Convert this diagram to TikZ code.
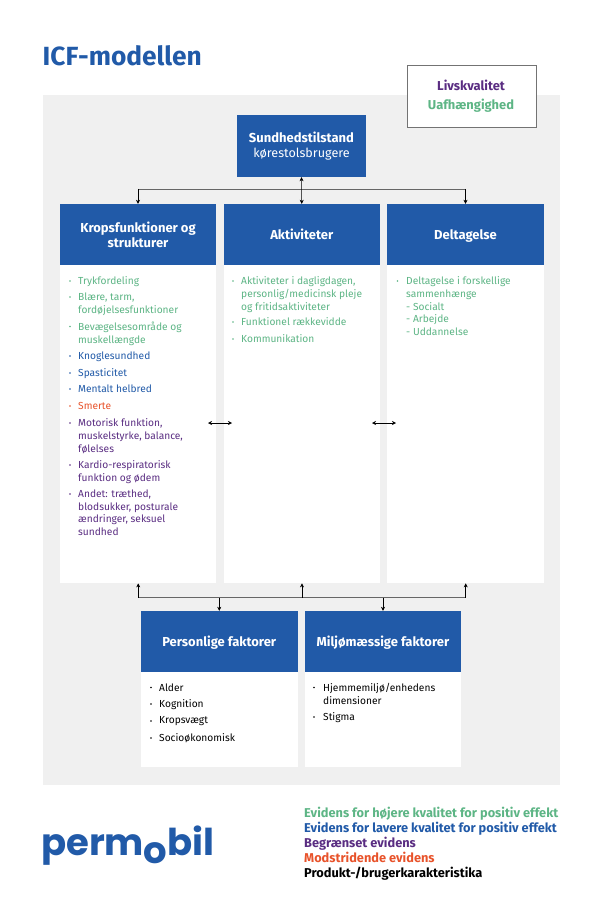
\documentclass[tikz,border=0pt]{standalone}
\usepackage{fontspec}
\setmainfont{Fira Sans}
\newfontfamily\logofont{Poppins}
\usetikzlibrary{arrows.meta}
\definecolor{pmblue}{HTML}{215AA8}
\definecolor{pmgreen}{HTML}{5DB585}
\definecolor{pmpurple}{HTML}{5A2D82}
\definecolor{pmorange}{HTML}{E8532B}
\definecolor{pmgray}{HTML}{F0F0F0}
\tikzset{
  headbox/.style={fill=pmblue,text=white,minimum width=#1,minimum height=61pt,inner sep=0pt,align=center,font=\fontsize{13}{15}\selectfont\bfseries},
  headbox/.default=156.5pt,
  bodybox/.style={fill=white,inner sep=0pt,anchor=north west},
  itemtext/.style={inner sep=0pt,anchor=north west,align=left,font=\fontsize{10.2}{12.6}\selectfont,text=#1},
  itemdot/.style={fill=#1,circle,inner sep=0pt,minimum size=1.8pt},
  legendline/.style={inner sep=0pt,anchor=base west,font=\fontsize{12.8}{14}\selectfont\bfseries,text=#1},
  tip/.style={-{Stealth[length=4pt,width=4pt]},draw=black,line width=0.5pt},
  twotip/.style={{Stealth[length=4pt,width=4pt]}-{Stealth[length=4pt,width=4pt]},draw=black,line width=0.5pt},
  busline/.style={draw=black!60,line width=0.9pt},
  logotext/.style={inner sep=0pt,anchor=base west,text=pmblue,font=\logofont\fontsize{37}{37}\selectfont\bfseries}
}
% \li{name}{bullet x}{text x}{first-line centre y}{colour}{text}
\newcommand{\li}[6]{%
  \node[itemdot=#5] (#1d) at (#2,#4) {};
  \node[itemtext=#5] (#1) at (#3,#4-4.3) {#6};
}
\newcommand{\oneline}[1]{\smash{\raisebox{-4.6pt}{#1}}}
\begin{document}
\begin{tikzpicture}[x=1pt,y=-1pt]
\useasboundingbox (0,0) rectangle (600,904);
\fill[pmgray] (43,95) rectangle (560,785);

\node[inner sep=0pt,anchor=base west,text=pmblue,font=\fontsize{26.3}{28}\selectfont\bfseries] (title) at (42.5,65.5) {ICF-modellen};

\node[draw=black!55,fill=white,line width=0.7pt,minimum width=128.5pt,minimum height=61.5pt,inner sep=0pt,anchor=north west] (qol) at (407,65.5) {};
\node[inner sep=0pt,text=pmpurple,font=\fontsize{12.9}{14}\selectfont\bfseries] (livs) at (471,85) {Livskvalitet};
\node[inner sep=0pt,text=pmgreen,font=\fontsize{12.9}{14}\selectfont\bfseries] (uaf) at (471,105.5) {Uafhængighed};

\node[headbox=129.5pt,minimum height=62pt] (sund) at (301.5,146) {\raisebox{-1.5pt}{Sundhedstilstand}\\{\mdseries\fontsize{12.6}{15}\selectfont\raisebox{-1.5pt}{kørestolsbrugere}}};

\node[headbox] (krop) at (138,234.5) {\raisebox{-1.5pt}{Kropsfunktioner og}\\\raisebox{-1.5pt}{strukturer}};
\node[headbox] (akt) at (301.75,234.5) {\oneline{Aktiviteter}};
\node[headbox] (del) at (465.5,234.5) {\oneline{Deltagelse}};

\node[bodybox,minimum width=156.5pt,minimum height=318pt] (kropb) at (59.75,265) {};
\node[bodybox,minimum width=156.5pt,minimum height=318pt] (aktb) at (223.5,265) {};
\node[bodybox,minimum width=156.5pt,minimum height=318pt] (delb) at (387.25,265) {};

\node[headbox] (pers) at (219.25,641.5) {\oneline{Personlige faktorer}};
\node[headbox] (milj) at (383,641.5) {\oneline{Miljømæssige faktorer}};
\node[bodybox,minimum width=156.5pt,minimum height=95pt] (persb) at (141,672) {};
\node[bodybox,minimum width=156.5pt,minimum height=95pt] (miljb) at (304.75,672) {};

% connectors
\coordinate (topbus) at (301.5,189);
\draw[busline] (krop.north |- topbus) -- (del.north |- topbus);
\draw[tip] (krop.north |- topbus) -- (krop.north);
\draw[tip] (del.north |- topbus) -- (del.north);
\draw[twotip] (sund.south) -- (akt.north);
\coordinate (botbus) at (301.5,597.5);
\draw[busline] (kropb.south |- botbus) -- (delb.south |- botbus);
\draw[tip] (kropb.south |- botbus) -- (kropb.south);
\draw[tip] (aktb.south |- botbus) -- (aktb.south);
\draw[tip] (delb.south |- botbus) -- (delb.south);
\draw[tip] (pers.north |- botbus) -- (pers.north);
\draw[tip] (milj.north |- botbus) -- (milj.north);
\coordinate (al) at (208,423);
\coordinate (ar) at (232,423);
\coordinate (bl) at (372,423);
\coordinate (br) at (396,423);
\draw[twotip] (al) -- (ar);
\draw[twotip] (bl) -- (br);

% column 1
\li{a1}{70}{78}{281}{pmgreen}{Trykfordeling}
\li{a2}{70}{78}{297}{pmgreen}{Blære, tarm,\\fordøjelsesfunktioner}
\li{a3}{70}{78}{326.5}{pmgreen}{Bevægelsesområde og\\muskellængde}
\li{a4}{70}{78}{356}{pmblue}{Knoglesundhed}
\li{a5}{70}{78}{373}{pmblue}{Spasticitet}
\li{a6}{70}{78}{389}{pmblue}{Mentalt helbred}
\li{a7}{70}{78}{406}{pmorange}{Smerte}
\li{a8}{70}{78}{423}{pmpurple}{Motorisk funktion,\\muskelstyrke, balance,\\følelses}
\li{a9}{70}{78}{465}{pmpurple}{Kardio-respiratorisk\\funktion og ødem}
\li{a10}{70}{78}{494}{pmpurple}{Andet: træthed,\\blodsukker, posturale\\ændringer, seksuel\\sundhed}
% column 2
\li{b1}{233}{241}{281}{pmgreen}{Aktiviteter i dagligdagen,\\personlig/medicinsk pleje\\og fritidsaktiviteter}
\li{b2}{233}{241}{322}{pmgreen}{Funktionel rækkevidde}
\li{b3}{233}{241}{339}{pmgreen}{Kommunikation}
% column 3
\li{c1}{397.5}{406}{281}{pmgreen}{Deltagelse i forskellige\\sammenhænge\\- Socialt\\- Arbejde\\- Uddannelse}
% lower boxes
\li{d1}{151}{159}{687.5}{black}{Alder}
\li{d2}{151}{159}{704}{black}{Kognition}
\li{d3}{151}{159}{721}{black}{Kropsvægt}
\li{d4}{151}{159}{738}{black}{Socioøkonomisk}
\li{e1}{314}{323}{687.5}{black}{Hjemmemiljø/enhedens\\dimensioner}
\li{e2}{314}{323}{717}{black}{Stigma}

% legend
\node[legendline=pmgreen] (l1) at (304,817.5) {Evidens for højere kvalitet for positiv effekt};
\node[legendline=pmblue] (l2) at (304,832.5) {Evidens for lavere kvalitet for positiv effekt};
\node[legendline=pmpurple] (l3) at (304,847.5) {Begrænset evidens};
\node[legendline=pmorange] (l4) at (304,862.5) {Modstridende evidens};
\node[legendline=black] (l5) at (304,877.5) {Produkt-/brugerkarakteristika};

% logo
\node[logotext] (lg1) at (41,855) {perm};
\node[logotext] (lg2) at (143,863) {o};
\node[logotext] (lg3) at (167,855) {bil};
\end{tikzpicture}
\end{document}
